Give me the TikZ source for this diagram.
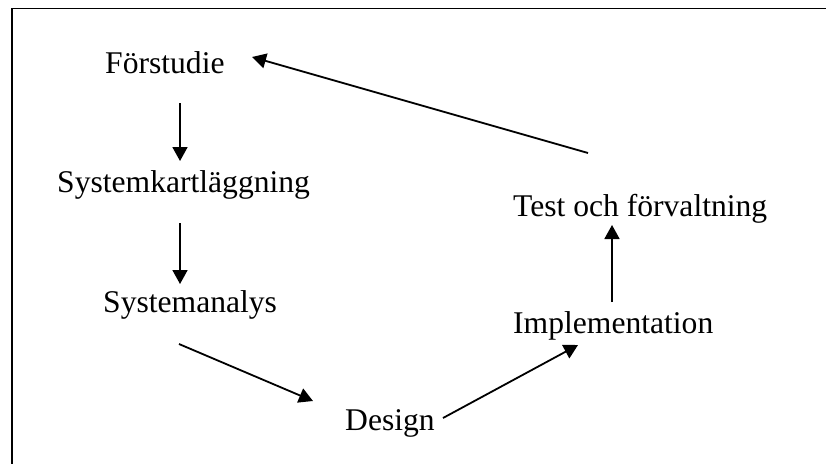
\documentclass[tikz,border=0pt]{standalone}
\usepackage{fontspec}
\setmainfont{Liberation Serif}
\usetikzlibrary{arrows.meta,calc}
\begin{document}
\begin{tikzpicture}[x=1pt,y=-1pt,
  phase/.style={anchor=base west,inner sep=0pt,font=\fontsize{31.6}{38}\selectfont},
  flow/.style={line width=1.8pt,-{Triangle[length=14pt,width=15pt]}},
  frame/.style={line width=1.7pt}]
  \useasboundingbox (0,0) rectangle (826,464);

  % frame (top and left edges)
  \draw[frame] (826,8.5) -- (12,8.5) -- (12,464);

  % phases
  \node[phase] (fs) at (105,73)  {Förstudie};
  \node[phase] (sk) at (57,192)  {Systemkartläggning};
  \node[phase] (sa) at (103,312) {Systemanalys};
  \node[phase] (de) at (345,430) {Design};
  \node[phase] (im) at (513,333) {Implementation};
  \node[phase] (te) at (513,216) {Test och förvaltning};

  % flow between phases
  \draw[flow] ($(fs.base west)+(75,30)$)  -- ($(sk.base west)+(123,-31)$);
  \draw[flow] ($(sk.base west)+(123,31)$) -- ($(sa.base west)+(77,-28)$);
  \draw[flow] ($(sa.base west)+(76,32)$)  -- ($(de.base west)+(-32,-29)$);
  \draw[flow] ($(de.base west)+(98,-12)$) -- ($(im.base west)+(65,12)$);
  \draw[flow] ($(im.base west)+(99,-31)$) -- ($(te.base west)+(99,9)$);
  \draw[flow] ($(te.base west)+(75,-63)$) -- ($(fs.base west)+(147,-16)$);
\end{tikzpicture}
\end{document}
